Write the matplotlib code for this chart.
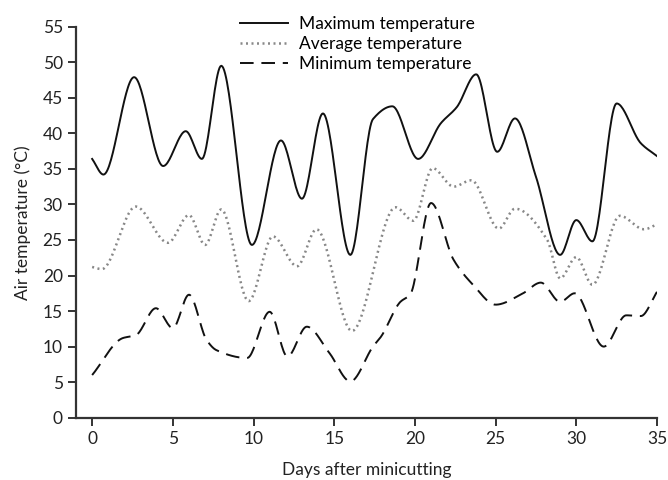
import numpy as np
import matplotlib.pyplot as plt

# values (day, temperature in °C)
max_days = [0, 0.7, 2.6, 4.4, 5.8, 6.8, 8.0, 9.9, 11.7, 13.0, 14.3, 16.0, 17.4, 18.6, 20.2, 21.6, 22.6, 23.8, 25.1, 26.2, 27.5, 29.0, 30.0, 31.0, 32.5, 34.0, 35.0]
max_temp = [36.4, 34.2, 47.9, 35.4, 40.3, 36.4, 49.5, 24.3, 39.0, 30.8, 42.8, 22.9, 42.0, 43.8, 36.4, 41.4, 43.7, 48.3, 37.4, 42.1, 33.9, 22.9, 27.8, 24.8, 44.2, 38.6, 36.8]

avg_days = [0, 0.6, 2.7, 4.7, 6.0, 7.0, 8.0, 9.7, 11.2, 12.7, 13.9, 16.1, 18.8, 19.9, 21.1, 22.4, 23.5, 25.2, 26.2, 28.2, 29.0, 30.0, 31.0, 32.7, 34.2, 35.0]
avg_temp = [21.2, 20.9, 29.7, 24.6, 28.5, 24.3, 29.3, 16.4, 25.5, 21.3, 26.5, 12.2, 29.6, 27.7, 35.1, 32.5, 33.4, 26.6, 29.4, 25.0, 19.6, 22.6, 18.7, 28.4, 26.5, 27.2]

min_days = [0, 1.9, 2.7, 3.95, 5.0, 6.0, 7.1, 7.7, 9.6, 11.0, 12.1, 13.3, 14.7, 16.0, 17.4, 17.9, 19.1, 19.7, 21.0, 22.4, 23.6, 25.0, 26.7, 27.8, 29.0, 29.9, 31.7, 33.1, 34.0, 35.0]
min_temp = [6.0, 11.2, 11.6, 15.4, 12.6, 17.3, 10.9, 9.5, 8.4, 14.9, 8.6, 12.8, 9.1, 5.1, 10.0, 11.4, 16.3, 17.3, 30.2, 22.2, 18.7, 15.9, 17.5, 19.0, 16.3, 17.5, 10.0, 14.4, 14.3, 17.7]


def smooth(x, y, n=600):
    # monotone cubic (pchip) so the drawn line is smooth like the original
    x = np.asarray(x, float)
    y = np.asarray(y, float)
    h = np.diff(x)
    delta = np.diff(y) / h
    d = np.zeros_like(y)
    for k in range(1, len(x) - 1):
        if delta[k - 1] * delta[k] > 0:
            w1 = 2 * h[k] + h[k - 1]
            w2 = h[k] + 2 * h[k - 1]
            d[k] = (w1 + w2) / (w1 / delta[k - 1] + w2 / delta[k])
    d[0] = delta[0]
    d[-1] = delta[-1]
    xs = np.linspace(x[0], x[-1], n)
    idx = np.clip(np.searchsorted(x, xs) - 1, 0, len(x) - 2)
    t = (xs - x[idx]) / h[idx]
    h00 = 2 * t**3 - 3 * t**2 + 1
    h10 = t**3 - 2 * t**2 + t
    h01 = -2 * t**3 + 3 * t**2
    h11 = t**3 - t**2
    ys = h00 * y[idx] + h10 * h[idx] * d[idx] + h01 * y[idx + 1] + h11 * h[idx] * d[idx + 1]
    return xs, ys


plt.rcParams['font.family'] = ['Lato', 'DejaVu Sans']
fig = plt.figure(figsize=(6.68, 4.80), dpi=100)
ax = fig.add_axes([0.1138, 0.1298, 0.8697, 0.8146])

ax.plot(*smooth(max_days, max_temp), color='#111111', lw=1.4, label='Maximum temperature')
ax.plot(*smooth(avg_days, avg_temp), color='#888888', lw=1.8, linestyle=(0, (0.8, 1.4)),
        label='Average temperature')
ax.plot(*smooth(min_days, min_temp), color='#111111', lw=1.4, linestyle=(0, (7, 4)),
        label='Minimum temperature')

ax.set_xlim(-1, 35)
ax.set_ylim(0, 55)
ax.set_xticks(range(0, 36, 5))
ax.set_yticks(range(0, 56, 5))
ax.spines['top'].set_visible(False)
ax.spines['right'].set_visible(False)
ax.spines['left'].set_linewidth(1.6)
ax.spines['bottom'].set_linewidth(1.6)
ax.spines['left'].set_color('#333333')
ax.spines['bottom'].set_color('#333333')
ax.tick_params(labelsize=12.5, width=1.4, length=6, color='#333333', labelcolor='#222222')
ax.set_xlabel('Days after minicutting', fontsize=12.5, labelpad=11, color='#222222')
ax.set_ylabel('Air temperature (°C)', fontsize=12.5, labelpad=8, color='#222222')

fig.legend(loc='upper left', bbox_to_anchor=(0.343, 0.99), frameon=False, fontsize=12.5,
           handlelength=2.75, handletextpad=0.6, labelspacing=0.24, borderaxespad=0.25)

fig.savefig('out.png', dpi=100)
